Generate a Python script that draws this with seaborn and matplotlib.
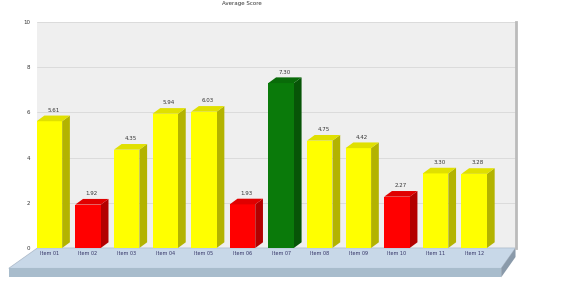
import numpy as np
import pandas as pd
import matplotlib.pyplot as plt
import seaborn as sns
from matplotlib.patches import Polygon
from matplotlib.colors import to_rgb

# data
labels = ["Item 01", "Item 02", "Item 03", "Item 04", "Item 05", "Item 06",
          "Item 07", "Item 08", "Item 09", "Item 10", "Item 11", "Item 12"]
values = [5.61, 1.92, 4.35, 5.94, 6.03, 1.93, 7.30, 4.75, 4.42, 2.27, 3.30, 3.28]
yticks = [0, 2, 4, 6, 8, 10]

df = pd.DataFrame({"label": labels, "value": values})

def pick_colour(v):
    if v == max(values):
        return "#0a7a0a"
    if v < 2.5:
        return "#ff0000"
    return "#ffff00"

cols = [pick_colour(v) for v in values]

sns.set_style("white")
plt.rcParams['font.family'] = ['DejaVu Sans']

fig = plt.figure(figsize=(5.76, 2.86), dpi=100)
ax = fig.add_axes([0.065, 0.133, 0.83, 0.79])
ax.set_facecolor("#efefef")

sns.barplot(data=df, x="label", y="value", hue="label", palette=cols,
            legend=False, width=0.66, saturation=1, ax=ax, zorder=3,
            edgecolor="none", linewidth=0)

ax.set_ylim(0, 10)
ax.set_xlim(-0.31, 12.07)
ax.set_yticks(yticks)
ax.set_yticklabels([str(t) for t in yticks], fontsize=4, color="#333333")
ax.tick_params(axis="x", labelsize=3.5, colors="#333366", length=0, pad=2)
ax.tick_params(axis="y", length=3, pad=2)
ax.grid(axis="y", color="#d8d8d8", lw=0.6, zorder=0)
ax.set_xlabel("")
ax.set_ylabel("")
for s in ax.spines.values():
    s.set_visible(False)
ax.spines["right"].set_visible(True)
ax.spines["right"].set_color("#bbbbbb")
ax.spines["right"].set_linewidth(2)

# fake 3d depth for each bar
dx, dy = 0.2, 0.25
for p, c in zip(ax.patches, cols):
    x0, w, h = p.get_x(), p.get_width(), p.get_height()
    dark = tuple(np.array(to_rgb(c)) * 0.7)
    side = Polygon([[x0 + w, 0], [x0 + w + dx, dy], [x0 + w + dx, h + dy], [x0 + w, h]],
                   closed=True, fc=dark, ec="none", zorder=2)
    top = Polygon([[x0, h], [x0 + dx, h + dy], [x0 + w + dx, h + dy], [x0 + w, h]],
                  closed=True, fc=tuple(np.array(to_rgb(c)) * 0.88), ec="none", zorder=3)
    ax.add_patch(side)
    ax.add_patch(top)
    ax.text(x0 + w / 2 + dx / 2, h + dy + 0.12, f"{h:.2f}", ha="center",
            va="bottom", fontsize=4, color="#333333", zorder=4)

# floor slab under the plot
floor = Polygon([[0.0, 0.0], [1.0, 0.0], [0.97, -0.09], [-0.06, -0.09]],
                closed=True, transform=ax.transAxes, fc="#c8d8e8", ec="#aab8c8",
                lw=0.5, clip_on=False, zorder=0)
ax.add_patch(floor)
front = Polygon([[-0.06, -0.09], [0.97, -0.09], [0.97, -0.13], [-0.06, -0.13]],
                closed=True, transform=ax.transAxes, fc="#a8bccc", ec="none",
                clip_on=False, zorder=0)
ax.add_patch(front)
sidef = Polygon([[0.97, -0.09], [1.0, 0.0], [1.0, -0.04], [0.97, -0.13]],
                closed=True, transform=ax.transAxes, fc="#8a9aaa", ec="none",
                clip_on=False, zorder=0)
ax.add_patch(sidef)

fig.text(0.42, 0.995, "Average Score", ha="center", va="top", fontsize=4, color="#333333")

plt.savefig("out.png", dpi=100)
